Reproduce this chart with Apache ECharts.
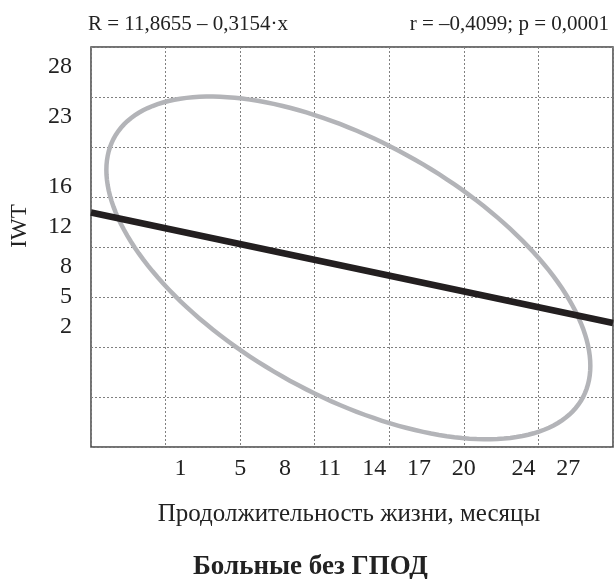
<!DOCTYPE html>
<html>
<head>
<meta charset="utf-8">
<script src="https://cdn.jsdelivr.net/npm/echarts@6/dist/echarts.min.js"></script>
<style>
html,body{margin:0;padding:0;background:#fff;}
#chart{width:616px;height:579px;}
</style>
</head>
<body>
<div id="chart"></div>
<script>
// Tick labels (placed at their own values)
const xTickLabels = [1, 5, 8, 11, 14, 17, 20, 24, 27];
const yTickLabels = [2, 5, 8, 12, 16, 23, 28];

// Regression line R = 11,8655 - 0,3154*x, read at plot edges
const lineX = [-5, 30];
const lineY = [13.45, 2.4];

// Confidence ellipse: its four extreme points (x, y)
const ellipseLeft = [-3.95, 17.67];
const ellipseRight = [28.5, -1.9];
const ellipseTop = [3.0, 25.07];
const ellipseBottom = [21.47, -9.2];

const FONT = 'Liberation Serif';
const lineData = lineX.map((x, i) => [x, lineY[i]]);

function renderEllipse(params, api) {
  const L = [api.value(0), api.value(1)], R = [api.value(2), api.value(3)];
  const T = [api.value(4), api.value(5)], B = [api.value(6), api.value(7)];
  const cx = ((L[0] + R[0]) / 2 + (T[0] + B[0]) / 2) / 2;
  const cy = ((L[1] + R[1]) / 2 + (T[1] + B[1]) / 2) / 2;
  const wx = (R[0] - L[0]) / 2;
  const wy = (T[1] - B[1]) / 2;
  const k = ((R[1] - cy) / wy + (T[0] - cx) / wx) / 2; // cos(phase)
  const s = Math.sqrt(1 - k * k);
  const pts = [];
  const n = 180;
  for (let i = 0; i <= n; i++) {
    const t = (i / n) * Math.PI * 2;
    const x = cx + wx * Math.cos(t);
    const y = cy + wy * (Math.cos(t) * k - Math.sin(t) * s);
    pts.push(api.coord([x, y]));
  }
  return {
    type: 'polygon',
    shape: {points: pts},
    style: {fill: 'none', stroke: '#b3b4b8', lineWidth: 4.5}
  };
}

const chart = echarts.init(document.getElementById('chart'), null, {renderer: 'canvas'});
chart.setOption({
  animation: false,
  backgroundColor: '#ffffff',
  title: [
    {text: 'R = 11,8655 – 0,3154·x', left: 83, top: 9,
     textStyle: {fontFamily: FONT, fontSize: 21, fontWeight: 'normal', color: '#222'}},
    {text: 'r = –0,4099; p = 0,0001', right: 2, top: 9,
     textStyle: {fontFamily: FONT, fontSize: 21, fontWeight: 'normal', color: '#222'}},
    {text: 'Больные без ГПОД', left: 188, top: 549,
     textStyle: {fontFamily: FONT, fontSize: 27, fontWeight: 'bold', color: '#222'}}
  ],
  grid: {left: 88, right: 3, top: 47, bottom: 132, show: true,
         borderColor: '#444', borderWidth: 1.5, backgroundColor: 'transparent'},
  xAxis: {
    type: 'value', min: -5, max: 30, interval: 5,
    name: 'Продолжительность жизни, месяцы', nameLocation: 'middle', nameGap: 55,
    nameTextStyle: {fontFamily: FONT, fontSize: 25, color: '#222', padding: [0, 6, 0, 0]},
    axisLine: {show: false}, axisTick: {show: false},
    axisLabel: {customValues: xTickLabels, margin: 10, fontFamily: FONT, fontSize: 24, color: '#222'},
    splitLine: {show: true, lineStyle: {color: '#808080', width: 1, type: [2, 2]}}
  },
  yAxis: {
    type: 'value', min: -10, max: 30, interval: 5,
    name: 'IWT', nameLocation: 'middle', nameGap: 60, nameRotate: 90,
    nameTextStyle: {fontFamily: FONT, fontSize: 23, color: '#222', padding: [0, 0, 0, 42]},
    axisLine: {show: false}, axisTick: {show: false},
    axisLabel: {customValues: yTickLabels, margin: 19, fontFamily: FONT, fontSize: 24, color: '#222'},
    splitLine: {show: true, lineStyle: {color: '#808080', width: 1, type: [2, 2]}}
  },
  series: [
    {type: 'custom', renderItem: renderEllipse, clip: true, z: 3,
     encode: {x: [0, 2, 4, 6], y: [1, 3, 5, 7]},
     data: [ellipseLeft.concat(ellipseRight, ellipseTop, ellipseBottom)]},
    {type: 'line', data: lineData, showSymbol: false, symbol: 'none',
     lineStyle: {color: '#231f20', width: 6.5}, clip: true, z: 4}
  ]
});
</script>
</body>
</html>
